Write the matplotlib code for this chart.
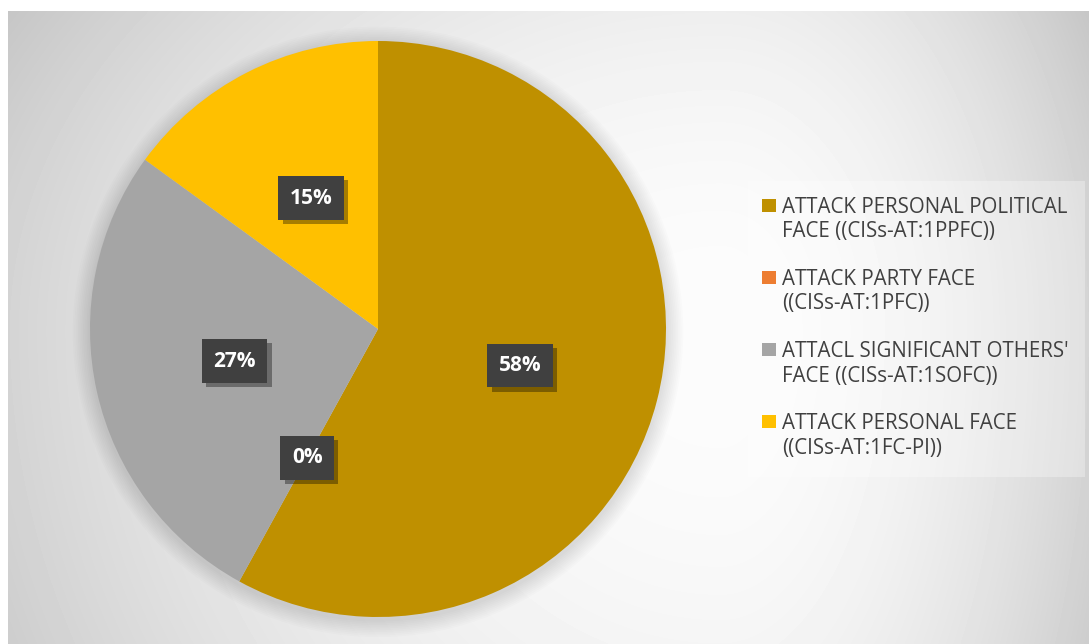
import numpy as np
import matplotlib
matplotlib.use("Agg")
import matplotlib.pyplot as plt
from matplotlib.patches import Rectangle, Circle
import matplotlib.patheffects as pe

# attack categories and their shares (%)
labels = ["ATTACK PERSONAL POLITICAL\nFACE ((CISs-AT:1PPFC))",
          "ATTACK PARTY FACE\n((CISs-AT:1PFC))",
          "ATTACL SIGNIFICANT OTHERS'\nFACE ((CISs-AT:1SOFC))",
          "ATTACK PERSONAL FACE\n((CISs-AT:1FC-PI))"]
shares = [58, 0, 27, 15]
colors = ["#BF9000", "#ED7D31", "#A5A5A5", "#FFC000"]

W, H = 1089, 644
fig = plt.figure(figsize=(W / 100, H / 100), dpi=100)
fig.patch.set_facecolor("white")

# chart area with a soft radial grey fill
bg = fig.add_axes([8 / W, 0, 1 - 8 / W, 1 - 11 / H])
xs = np.arange(8, W)
ys = np.arange(11, H)
X, Y = np.meshgrid(xs, ys)
cx, cy = 720, 330
sx = np.where(X < cx, 712.0, 369.0)
sy = np.where(Y < cy, 539.0, 750.0)
r2 = ((X - cx) / sx) ** 2 + ((Y - cy) / sy) ** 2
g = np.clip(252 - 40 * r2, 0, 255) / 255
bg.imshow(g, cmap="gray", vmin=0, vmax=1, aspect="auto",
          extent=(8, W, H, 11), interpolation="bilinear")
bg.set_xlim(8, W)
bg.set_ylim(H, 11)
bg.axis("off")

# pie
R = 288
pcx, pcy = 378, 329
ax = fig.add_axes([(pcx - R) / W, (H - pcy - R) / H, 2 * R / W, 2 * R / H])

# faint shadow round the pie
for k in range(10):
    ax.add_patch(Circle((0.0, -0.01), 1.0 + 0.006 * (10 - k), color="black",
                        alpha=0.012, lw=0, zorder=0, clip_on=False))

wedges, texts, autotexts = ax.pie(shares, colors=colors, startangle=90,
                                  counterclock=False, radius=1,
                                  autopct="%1.0f%%", pctdistance=0.51,
                                  wedgeprops=dict(linewidth=0),
                                  textprops=dict(color="white", fontsize=15,
                                                 fontweight="bold",
                                                 family="Open Sans"))
ax.set_xlim(-1, 1)
ax.set_ylim(-1, 1)
ax.axis("off")
for t in autotexts:
    t.set_bbox(dict(boxstyle="square,pad=0.55", facecolor="#404040",
                    edgecolor="none"))
    t.get_bbox_patch().set_path_effects(
        [pe.SimplePatchShadow(offset=(3, -3), shadow_rgbFace="black", alpha=0.35),
         pe.Normal()])

# legend panel
lg = fig.add_axes([0, 0, 1, 1])
lg.set_xlim(0, W)
lg.set_ylim(H, 0)
lg.axis("off")
lg.add_patch(Rectangle((748, 181), 337, 296, facecolor="white", alpha=0.3,
                       edgecolor="none"))
y0 = 205
for i, (lab, c) in enumerate(zip(labels, colors)):
    yy = y0 + i * 72.3
    lg.add_patch(Rectangle((762, yy - 6.5), 14, 13, facecolor=c, edgecolor="none"))
    lg.text(782, yy - 8.5, lab, fontsize=14.8, family="Open Sans", color="#404040",
            va="top", ha="left", linespacing=1.22)

fig.savefig("out.png", dpi=100)
